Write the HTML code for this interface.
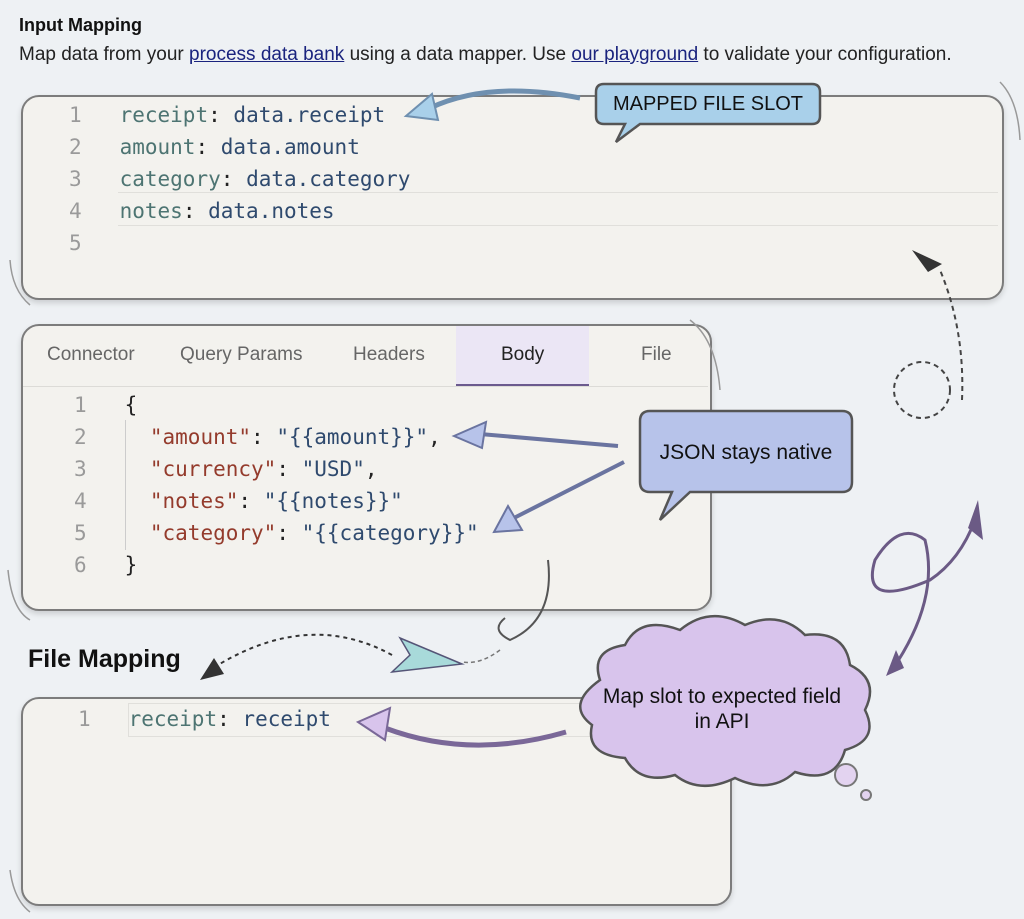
<!DOCTYPE html>
<html><head><meta charset="utf-8"><style>
body{margin:0;width:1024px;height:919px;background:#eef1f4;position:relative;overflow:hidden;font-family:"Liberation Sans",sans-serif;}
.a{position:absolute;}
.box{position:absolute;background:#f3f2ee;border:2px solid #7c7c7c;border-radius:18px;box-shadow:0 3px 6px rgba(0,0,0,.15);}
.mono{font-family:"DejaVu Sans Mono","Liberation Mono",monospace;font-size:21px;white-space:pre;}
.ln{color:#9a9a9a;}
.k{color:#4d7472}.v{color:#2f4a6e}.r{color:#943b2c}.p{color:#222}
.tab{position:absolute;top:344px;font-size:19px;color:#666;}
</style></head><body>
<div class="a" style="left:19px;top:15px;font-size:18px;font-weight:bold;color:#111">Input Mapping</div>
<div class="a" style="left:19px;top:44px;font-size:19px;color:#222">Map data from your <u style="color:#1a237e">process data bank</u> using a data mapper. Use <u style="color:#1a237e">our playground</u> to validate your configuration.</div>

<div class="box" style="left:21px;top:95px;width:979px;height:201px"></div>
<div class="a" style="left:118px;top:192px;width:880px;height:1px;background:#e0dfdb"></div>
<div class="a" style="left:118px;top:225px;width:880px;height:1px;background:#e0dfdb"></div>
<div class="a mono" style="left:69px;top:99px;line-height:32px"><span class="ln">1</span>   <span class="k">receipt</span><span class="p">:</span> <span class="v">data.receipt</span>
<span class="ln">2</span>   <span class="k">amount</span><span class="p">:</span> <span class="v">data.amount</span>
<span class="ln">3</span>   <span class="k">category</span><span class="p">:</span> <span class="v">data.category</span>
<span class="ln">4</span>   <span class="k">notes</span><span class="p">:</span> <span class="v">data.notes</span>
<span class="ln">5</span></div>

<div class="box" style="left:21px;top:324px;width:687px;height:283px"></div>
<div class="a" style="left:456px;top:326px;width:133px;height:58px;background:#ebe6f5;border-bottom:3px solid #6b5a8e"></div>
<div class="a" style="left:23px;top:386px;width:685px;height:1px;background:#dcdbd7"></div>
<div class="tab" style="left:47px">Connector</div>
<div class="tab" style="left:180px">Query Params</div>
<div class="tab" style="left:353px">Headers</div>
<div class="tab" style="left:501px;color:#222">Body</div>
<div class="tab" style="left:641px">File</div>
<div class="a" style="left:125px;top:420px;width:1px;height:130px;background:#ccc"></div>
<div class="a mono" style="left:74px;top:389px;line-height:32px"><span class="ln">1</span>   <span class="p">{</span>
<span class="ln">2</span>     <span class="r">"amount"</span><span class="p">:</span> <span class="v">"{{amount}}"</span><span class="p">,</span>
<span class="ln">3</span>     <span class="r">"currency"</span><span class="p">:</span> <span class="v">"USD"</span><span class="p">,</span>
<span class="ln">4</span>     <span class="r">"notes"</span><span class="p">:</span> <span class="v">"{{notes}}"</span>
<span class="ln">5</span>     <span class="r">"category"</span><span class="p">:</span> <span class="v">"{{category}}"</span>
<span class="ln">6</span>   <span class="p">}</span></div>

<div class="a" style="left:28px;top:645px;font-size:25px;font-weight:bold;color:#111">File Mapping</div>
<div class="box" style="left:21px;top:697px;width:707px;height:205px"></div>
<div class="a" style="left:128px;top:703px;width:600px;height:32px;border-top:1px solid #e0dfdb;border-bottom:1px solid #e0dfdb;border-left:1px solid #e0dfdb"></div>
<div class="a mono" style="left:78px;top:703px;line-height:32px"><span class="ln">1</span>   <span class="k">receipt</span><span class="p">:</span> <span class="v">receipt</span></div>

<svg class="a" style="left:0;top:0" width="1024" height="919">
<path d="M604 84 H812 Q820 84 820 92 V116 Q820 124 812 124 H640 L616 142 L625 124 H604 Q596 124 596 116 V92 Q596 84 604 84Z" fill="#a9d0ea" stroke="#555" stroke-width="2.5"/>
<text x="708" y="110" text-anchor="middle" font-size="20" font-family="Liberation Sans" fill="#111">MAPPED FILE SLOT</text>
<path d="M580 98 Q490 80 430 108" fill="none" stroke="#6f90b0" stroke-width="5"/>
<path d="M406 116 L432 94 L438 120Z" fill="#a9d0ea" stroke="#6f90b0" stroke-width="2"/>
<path d="M650 411 H842 Q852 411 852 421 V482 Q852 492 842 492 H690 L660 520 L672 492 H650 Q640 492 640 482 V421 Q640 411 650 411Z" fill="#b7c3ea" stroke="#555" stroke-width="2.5"/>
<text x="746" y="459" text-anchor="middle" font-size="21" font-family="Liberation Sans" fill="#111">JSON stays native</text>
<path d="M618 446 L480 434" stroke="#6a74a0" stroke-width="4"/>
<path d="M454 436 L486 422 L482 448Z" fill="#b7c3ea" stroke="#6a74a0" stroke-width="2"/>
<path d="M624 462 L510 520" stroke="#6a74a0" stroke-width="4"/>
<path d="M494 532 L508 506 L522 530Z" fill="#b7c3ea" stroke="#6a74a0" stroke-width="2"/>
<path d="M600 680 Q590 650 625 645 Q640 615 680 630 Q710 605 745 625 Q780 610 805 635 Q845 630 850 665 Q880 680 865 710 Q880 740 845 750 Q835 785 795 772 Q770 795 735 778 Q700 795 675 775 Q640 785 625 758 Q585 755 592 725 Q565 705 600 680Z" fill="#d8c4ec" stroke="#555" stroke-width="2.5"/>
<text x="722" y="703" text-anchor="middle" font-size="21" font-family="Liberation Sans" fill="#111">Map slot to expected field</text>
<text x="722" y="728" text-anchor="middle" font-size="21" font-family="Liberation Sans" fill="#111">in API</text>
<circle cx="846" cy="775" r="11" fill="#e3d3f0" stroke="#777" stroke-width="2"/>
<circle cx="866" cy="795" r="5" fill="#e3d3f0" stroke="#777" stroke-width="2"/>
<path d="M566 732 Q470 760 385 728" fill="none" stroke="#7a6898" stroke-width="5"/>
<path d="M358 722 L390 708 L385 740Z" fill="#d8c4ec" stroke="#7a6898" stroke-width="2"/>
<path d="M892 670 Q940 600 925 540 Q900 520 875 560 Q860 610 930 580 Q960 560 975 520" fill="none" stroke="#6b5a85" stroke-width="3"/>
<path d="M886 676 L896 650 L904 668Z" fill="#6b5a85"/>
<path d="M968 528 L978 500 L983 540Z" fill="#6b5a85"/>
<path d="M962 400 Q965 330 940 270" fill="none" stroke="#444" stroke-width="2" stroke-dasharray="5,4"/>
<circle cx="922" cy="390" r="28" fill="none" stroke="#444" stroke-width="2" stroke-dasharray="5,4"/>
<path d="M912 250 L942 264 L928 272Z" fill="#333"/>
<path d="M548 560 Q555 620 510 640 Q490 630 505 618" fill="none" stroke="#555" stroke-width="2"/>
<path d="M500 650 Q480 665 462 662" fill="none" stroke="#777" stroke-width="1.5" stroke-dasharray="4,3"/>
<path d="M400 638 L462 664 L392 672 L410 655Z" fill="#a8dada" stroke="#557" stroke-width="1.5"/>
<path d="M392 655 Q310 610 218 665" fill="none" stroke="#333" stroke-width="2" stroke-dasharray="4,4"/>
<path d="M200 680 L214 658 L224 674Z" fill="#333"/>
<path d="M1000 82 Q1018 100 1020 140" fill="none" stroke="#999" stroke-width="1.5"/>
<path d="M690 320 Q716 340 720 390" fill="none" stroke="#999" stroke-width="1.5"/>
<path d="M10 260 Q12 290 30 305" fill="none" stroke="#999" stroke-width="1.5"/>
<path d="M8 570 Q12 610 30 620" fill="none" stroke="#999" stroke-width="1.5"/>
<path d="M10 870 Q14 900 30 912" fill="none" stroke="#999" stroke-width="1.5"/>
</svg>
</body></html>
